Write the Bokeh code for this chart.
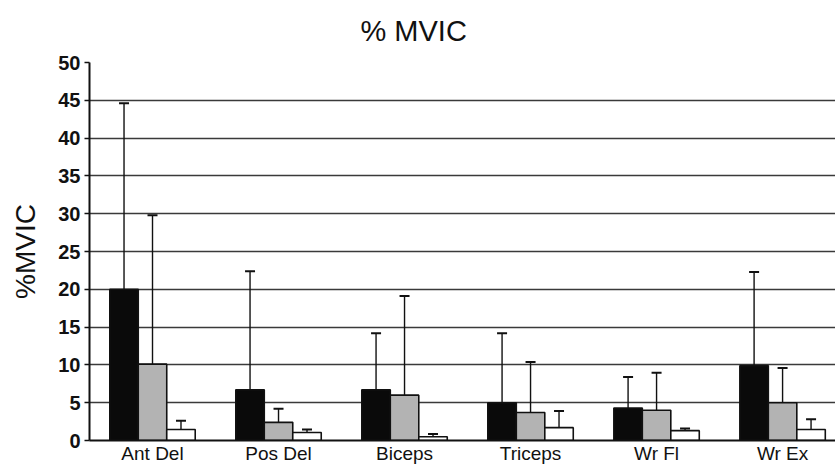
import numpy as np
from bokeh.plotting import figure
from bokeh.models import ColumnDataSource, Whisker, TeeHead, Title, FixedTicker, Range1d
from bokeh.embed import file_html
from bokeh.resources import INLINE

categories = ["Ant Del", "Pos Del", "Biceps", "Triceps", "Wr Fl", "Wr Ex"]
black_vals = [20.0, 6.7, 6.7, 5.0, 4.3, 9.9]
black_upper = [44.6, 22.4, 14.2, 14.2, 8.4, 22.3]
gray_vals = [10.1, 2.4, 6.0, 3.7, 4.0, 5.0]
gray_upper = [29.8, 4.2, 19.1, 10.4, 8.95, 9.6]
white_vals = [1.45, 1.05, 0.5, 1.7, 1.3, 1.45]
white_upper = [2.6, 1.45, 0.85, 3.9, 1.6, 2.8]
y_ticks = [0, 5, 10, 15, 20, 25, 30, 35, 40, 45, 50]

FONT = "Liberation Sans"
BAR_W = 0.226

p = figure(width=835, height=466, output_backend="svg", toolbar_location=None,
           x_range=Range1d(-0.5, 5.42), y_range=Range1d(0, 50),
           min_border_left=89, min_border_right=0, min_border_top=1,
           min_border_bottom=0)
p.outline_line_color = None
p.background_fill_color = "white"
p.border_fill_color = "white"

title = Title(text="% MVIC", align="left", offset=271, vertical_align="top",
              text_font=FONT, text_font_size="29px", text_font_style="normal",
              text_color="#111111", standoff=28)
p.add_layout(title, "above")

idx = np.arange(len(categories))
series = [
    (black_vals, black_upper, "#0a0a0a", -BAR_W),
    (gray_vals, gray_upper, "#b3b3b3", 0.0),
    (white_vals, white_upper, "#ffffff", BAR_W),
]
for vals, upper, color, off in series:
    src = ColumnDataSource(dict(x=idx + off, top=vals, upper=upper))
    p.vbar(x="x", top="top", bottom=0, width=BAR_W, source=src,
           fill_color=color, line_color="#111111", line_width=1.6)
    w = Whisker(base="x", lower="top", upper="upper", source=src,
                line_color="#111111", line_width=1.4,
                upper_head=TeeHead(size=10, line_color="#111111", line_width=2),
                lower_head=None)
    p.add_layout(w)

# axes
p.xaxis.ticker = FixedTicker(ticks=list(idx))
p.xaxis.major_label_overrides = {int(i): c for i, c in zip(idx, categories)}
p.xaxis.major_tick_line_color = None
p.xaxis.minor_tick_line_color = None
p.xaxis.major_tick_out = 0
p.xaxis.major_label_standoff = 2
p.xaxis.axis_line_color = "#111111"
p.xaxis.axis_line_width = 2
p.xaxis.major_label_text_font = FONT
p.xaxis.major_label_text_font_size = "19px"
p.xaxis.major_label_text_color = "#111111"

p.yaxis.ticker = FixedTicker(ticks=y_ticks)
p.yaxis.minor_tick_line_color = None
p.yaxis.major_tick_out = 5
p.yaxis.major_tick_in = 0
p.yaxis.major_tick_line_color = "#111111"
p.yaxis.major_tick_line_width = 1.5
p.yaxis.axis_line_color = "#111111"
p.yaxis.axis_line_width = 2
p.yaxis.major_label_standoff = 4
p.yaxis.major_label_text_font = FONT
p.yaxis.major_label_text_font_size = "20px"
p.yaxis.major_label_text_font_style = "bold"
p.yaxis.major_label_text_color = "#111111"
p.yaxis.axis_label = "%MVIC"
p.yaxis.axis_label_text_font = FONT
p.yaxis.axis_label_text_font_size = "28px"
p.yaxis.axis_label_text_font_style = "normal"
p.yaxis.axis_label_text_color = "#111111"
p.yaxis.axis_label_standoff = 14

p.xgrid.grid_line_color = None
p.ygrid.ticker = FixedTicker(ticks=y_ticks)
p.ygrid.grid_line_color = "#3a3a3a"
p.ygrid.grid_line_width = 1.6

open("out.html", "w").write(file_html(p, INLINE))
